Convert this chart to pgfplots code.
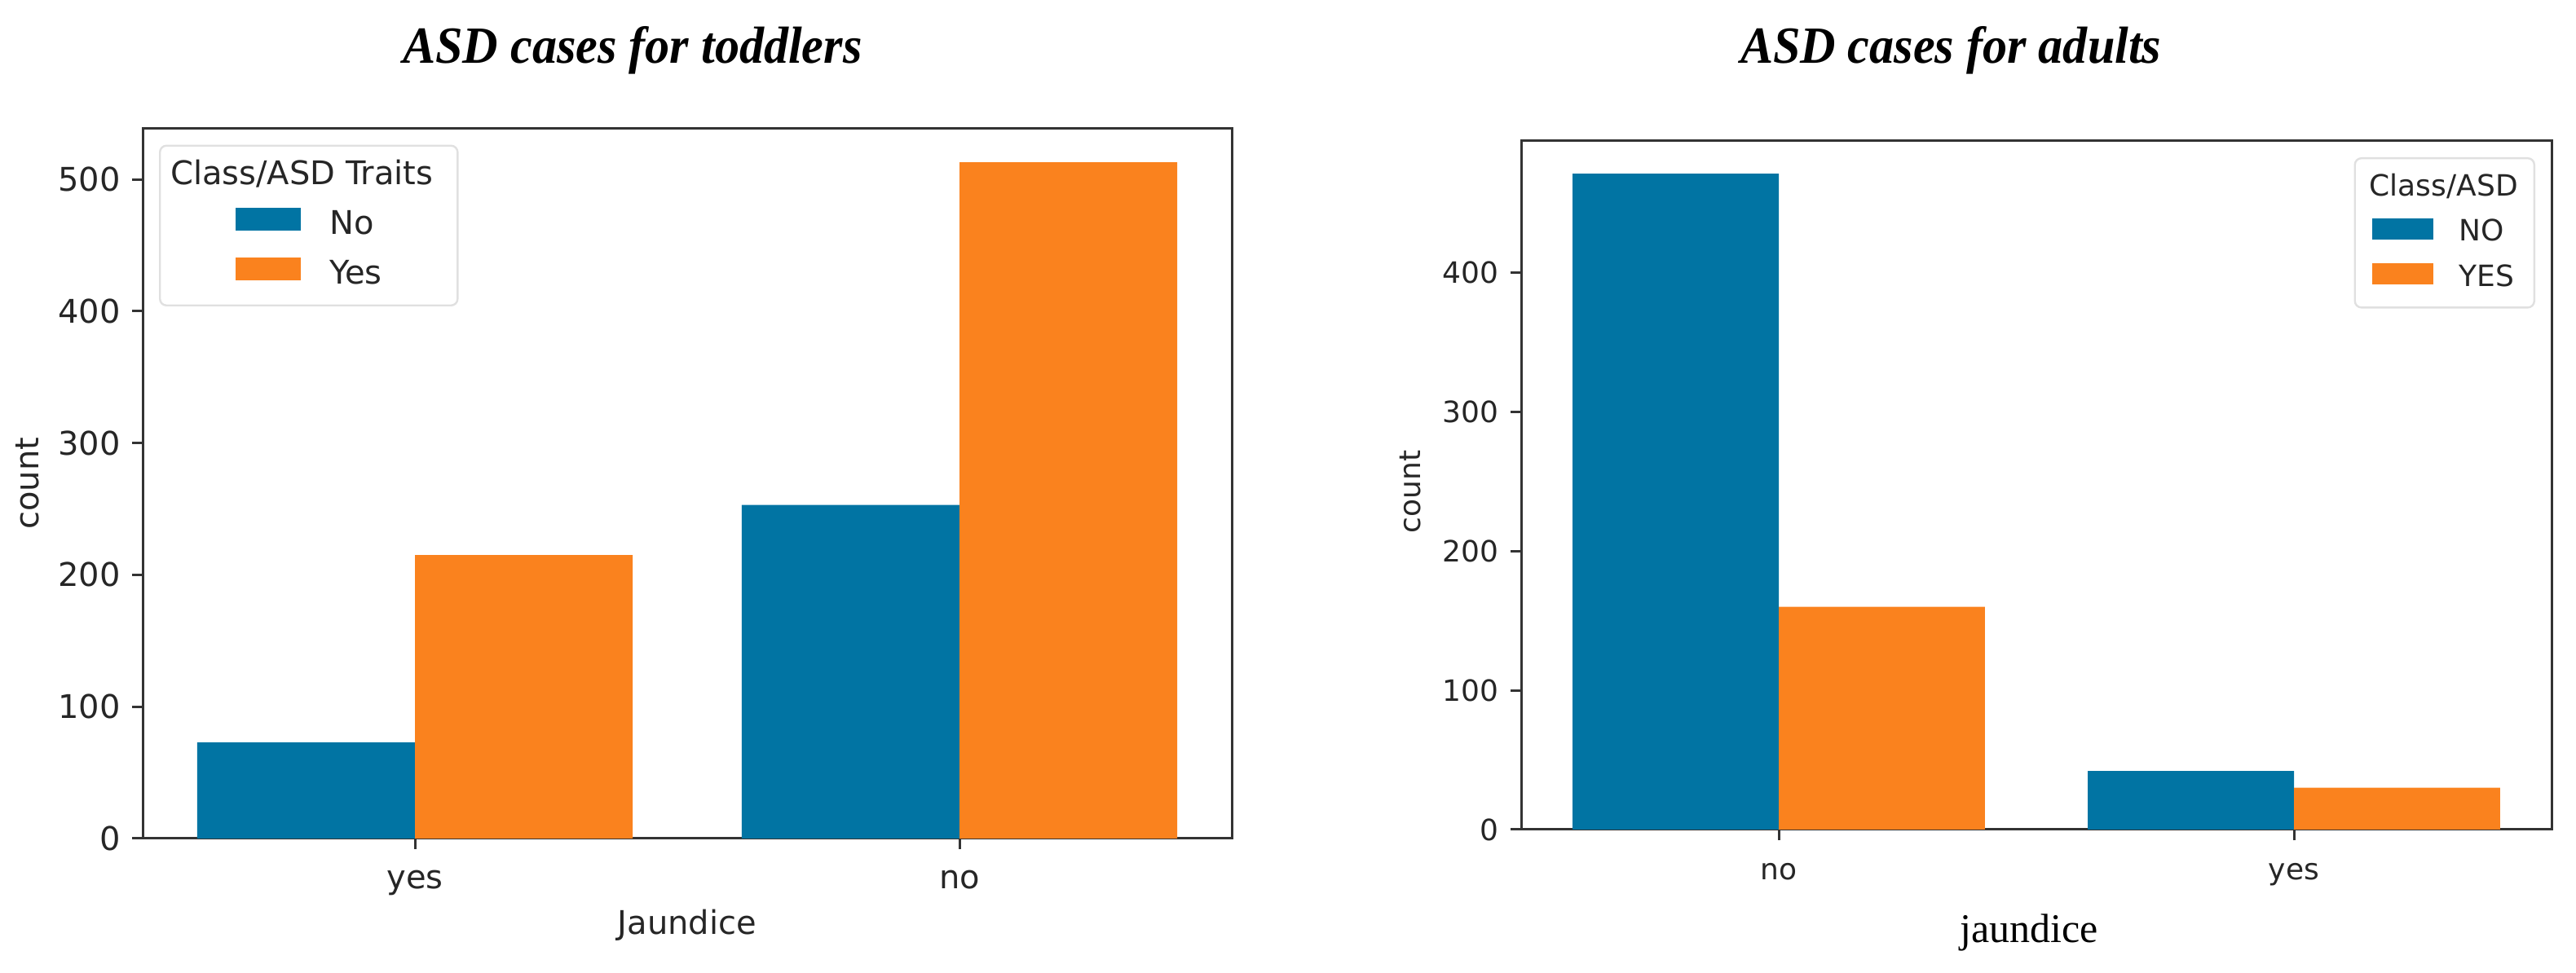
\documentclass[border=0pt]{standalone}
\usepackage{pgfplots}
\pgfplotsset{compat=1.18}
\usepackage{fontspec}
\newfontfamily\dejavu{DejaVu Sans}
\newfontfamily\libserif{Liberation Serif}
\newfontfamily\titlefont[FakeStretch=0.94]{Liberation Serif}
\definecolor{cbblue}{RGB}{1,116,163}
\definecolor{cborange}{RGB}{250,130,30}
\definecolor{txt}{RGB}{38,38,38}

\pgfplotstableread{
x NoASD YesASD
0 73 215
1 253 513
}\toddlers
\pgfplotstableread{
x NoASD YesASD
0 471 160
1 42 30
}\adults

\pgfplotsset{
  asdaxis/.style={
    scale only axis,
    axis line style={black!80, line width=0.75pt},
    every tick/.style={black!80, line width=0.75pt},
    major tick length=3.3pt,
    tick align=outside,
    xtick pos=left, ytick pos=left,
    ymin=0, xmin=-0.5, xmax=1.5,
    xtick={0,1},
    ybar=0pt, bar width=0.4,
    /pgf/number format/assume math mode=true,
    /pgf/number format/1000 sep={},
    legend cell align=left,
  },
  legL/.style={legend image code/.code={\path (-20pt,0pt); \fill[##1, draw=none, sharp corners] (0pt,-1.5pt) rectangle (20pt,5.5pt);}},
  legR/.style={legend image code/.code={\path (-0.75pt,0pt); \fill[##1, draw=none, sharp corners] (0pt,-2pt) rectangle (18.75pt,4.5pt);}},
}

\begin{document}
\begin{tikzpicture}
\path[use as bounding box] (0,0) rectangle (790pt,298.5pt);

\node[font=\titlefont\bfseries\itshape\fontsize{16pt}{19pt}\selectfont, anchor=base] at (194pt,279pt) {ASD cases for toddlers};
\node[font=\titlefont\bfseries\itshape\fontsize{16pt}{19pt}\selectfont, anchor=base] at (598.3pt,279pt) {ASD cases for adults};

% Left: toddlers
\begin{axis}[asdaxis,
  at={(43.75pt,41.25pt)}, anchor=south west,
  width=334pt, height=217.85pt,
  ymax=538.65, ytick={0,100,200,300,400,500},
  xticklabels={yes,no},
  ticklabel style={font=\dejavu\fontsize{10pt}{12pt}\selectfont, text=txt},
  xticklabel style={anchor=base, yshift=-12pt},
  xlabel={Jaundice}, ylabel={count},
  label style={font=\dejavu\fontsize{10pt}{12pt}\selectfont, text=txt},
  xlabel style={at={(axis description cs:0.5,0)}, anchor=base, yshift=-29.5pt},
  ylabel style={at={(axis description cs:0,0.5)}, anchor=center, yshift=35.25pt},
  legend style={at={(0,1)}, anchor=north west, xshift=5pt, yshift=-5pt,
    draw=black!12, line width=0.6pt, rounded corners=2pt, fill=white,
    inner xsep=3.25pt, inner ysep=4.5pt, row sep=5pt,
    /tikz/every odd column/.append style={column sep=8.75pt},
    nodes={inner sep=0pt, text height=7.5pt, text depth=2pt,
      font=\dejavu\fontsize{10pt}{12pt}\selectfont, text=txt}},
]
\addlegendimage{empty legend}
\addlegendentry{\hspace*{-48.75pt}Class/ASD Traits\hspace*{4.25pt}}
\addplot[fill=cbblue, draw=none, bar shift=-0.2, legL] table[x=x, y=NoASD] {\toddlers};
\addlegendentry{No}
\addplot[fill=cborange, draw=none, bar shift=0.2, legL] table[x=x, y=YesASD] {\toddlers};
\addlegendentry{Yes}
\end{axis}

% Right: adults
\begin{axis}[asdaxis,
  at={(466.5pt,44pt)}, anchor=south west,
  width=316pt, height=211.25pt,
  ymax=494.55, ytick={0,100,200,300,400},
  xticklabels={no,yes},
  ticklabel style={font=\dejavu\fontsize{9pt}{11pt}\selectfont, text=txt},
  xticklabel style={anchor=base, yshift=-12pt},
  xlabel={jaundice}, ylabel={count},
  xlabel style={font=\libserif\fontsize{12.5pt}{15pt}\selectfont, text=black, at={(axis description cs:0.5,0)}, anchor=base, yshift=-34.75pt, xshift=-2.25pt},
  ylabel style={font=\dejavu\fontsize{9pt}{11pt}\selectfont, text=txt, at={(axis description cs:0,0.5)}, anchor=center, yshift=34pt, xshift=-2pt},
  legend style={at={(1,1)}, anchor=north east, xshift=-5pt, yshift=-5pt,
    draw=black!12, line width=0.6pt, rounded corners=2pt, fill=white,
    inner xsep=4.5pt, inner ysep=4.5pt, row sep=4.9pt,
    /tikz/every odd column/.append style={column sep=8pt},
    nodes={inner sep=0pt, text height=7pt, text depth=2pt,
      font=\dejavu\fontsize{9pt}{11pt}\selectfont, text=txt}},
]
\addlegendimage{empty legend}
\addlegendentry{\hspace*{-27.5pt}Class/ASD\hspace*{0.5pt}}
\addplot[fill=cbblue, draw=none, bar shift=-0.2, legR] table[x=x, y=NoASD] {\adults};
\addlegendentry{NO}
\addplot[fill=cborange, draw=none, bar shift=0.2, legR] table[x=x, y=YesASD] {\adults};
\addlegendentry{YES}
\end{axis}
\end{tikzpicture}
\end{document}
